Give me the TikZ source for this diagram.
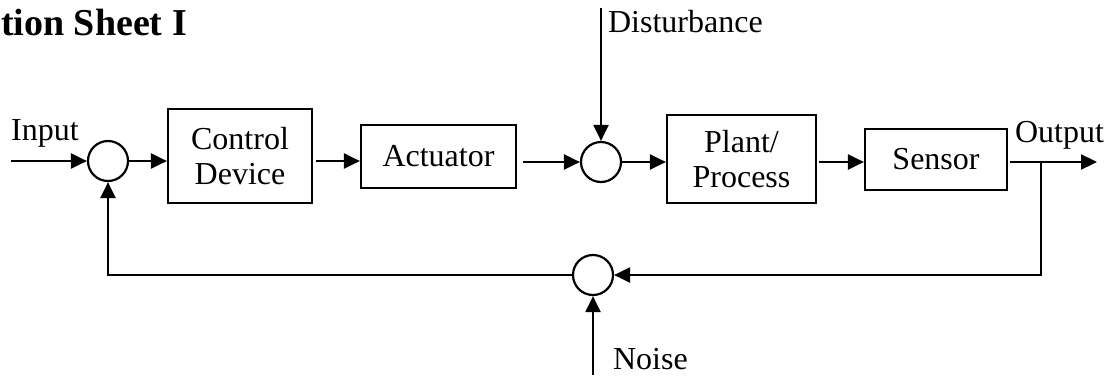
\documentclass[tikz,border=0pt]{standalone}
\usepackage{fontspec}
\setmainfont{Liberation Serif}
\usetikzlibrary{arrows.meta}
\begin{document}
\begin{tikzpicture}[x=1pt,y=-1pt,line width=2.2pt,
  every node/.style={font=\fontsize{32}{35}\selectfont},
  blk/.style={draw,line width=2.2pt,inner sep=0pt,align=center},
  sum/.style={draw,circle,line width=2.2pt,inner sep=0pt,minimum size=40pt},
  arr/.style={-{Triangle[length=16pt,width=15pt]}},
  lbl/.style={anchor=base west,inner sep=0pt}]
\useasboundingbox (0,0) rectangle (1107,378);
% title fragment
\node[lbl,font=\fontsize{38}{40}\selectfont\bfseries] (title) at (0,35) {tion Sheet I};
% blocks
\node[blk,minimum width=144pt,minimum height=94pt] (ctrl) at (240,156) {Control\\Device};
\node[blk,minimum width=155pt,minimum height=63pt] (act) at (438.5,156.5) {Actuator};
\node[blk,minimum width=149pt,minimum height=88pt] (plant) at (741.5,159) {Plant/\\Process};
\node[blk,minimum width=142pt,minimum height=61pt] (sens) at (936,159.5) {Sensor};
% summing junctions
\node[sum] (s1) at (108,161) {};
\node[sum] (s2) at (601,162) {};
\node[sum] (s3) at (593,275) {};
% free ends
\coordinate (in) at (11,161);
\coordinate (out) at (1097,162);
\coordinate (dist) at (601,8);
\coordinate (noise) at (593,375);
\coordinate (fb) at (1041,162);
% labels
\node[lbl] (inl) at (10,140) {Input};
\node[lbl] (outl) at (1014,142) {Output};
\node[lbl] (distl) at (607,32) {Disturbance};
\node[lbl] (noisel) at (612,369) {Noise};
% connectors
\draw[arr] (in) -- (s1.west);
\draw[arr] (s1.east) -- (ctrl.west |- s1);
\draw[arr,shorten <=3pt] (ctrl.east |- s1) -- (act.west |- s1);
\draw[arr,shorten <=6pt] (act.east |- s2) -- (s2.west);
\draw[arr] (s2.east) -- (plant.west |- s2);
\draw[arr,shorten <=2pt] (plant.east |- s2) -- (sens.west |- s2);
\draw[arr,shorten <=2pt] (sens.east |- s2) -- (out);
\draw[arr] (dist) -- (s2.north);
\draw[arr] (fb) |- (s3.east);
\draw[arr] (s3.west) -| (s1.south);
\draw[arr] (noise) -- (s3.south);
\end{tikzpicture}
\end{document}
